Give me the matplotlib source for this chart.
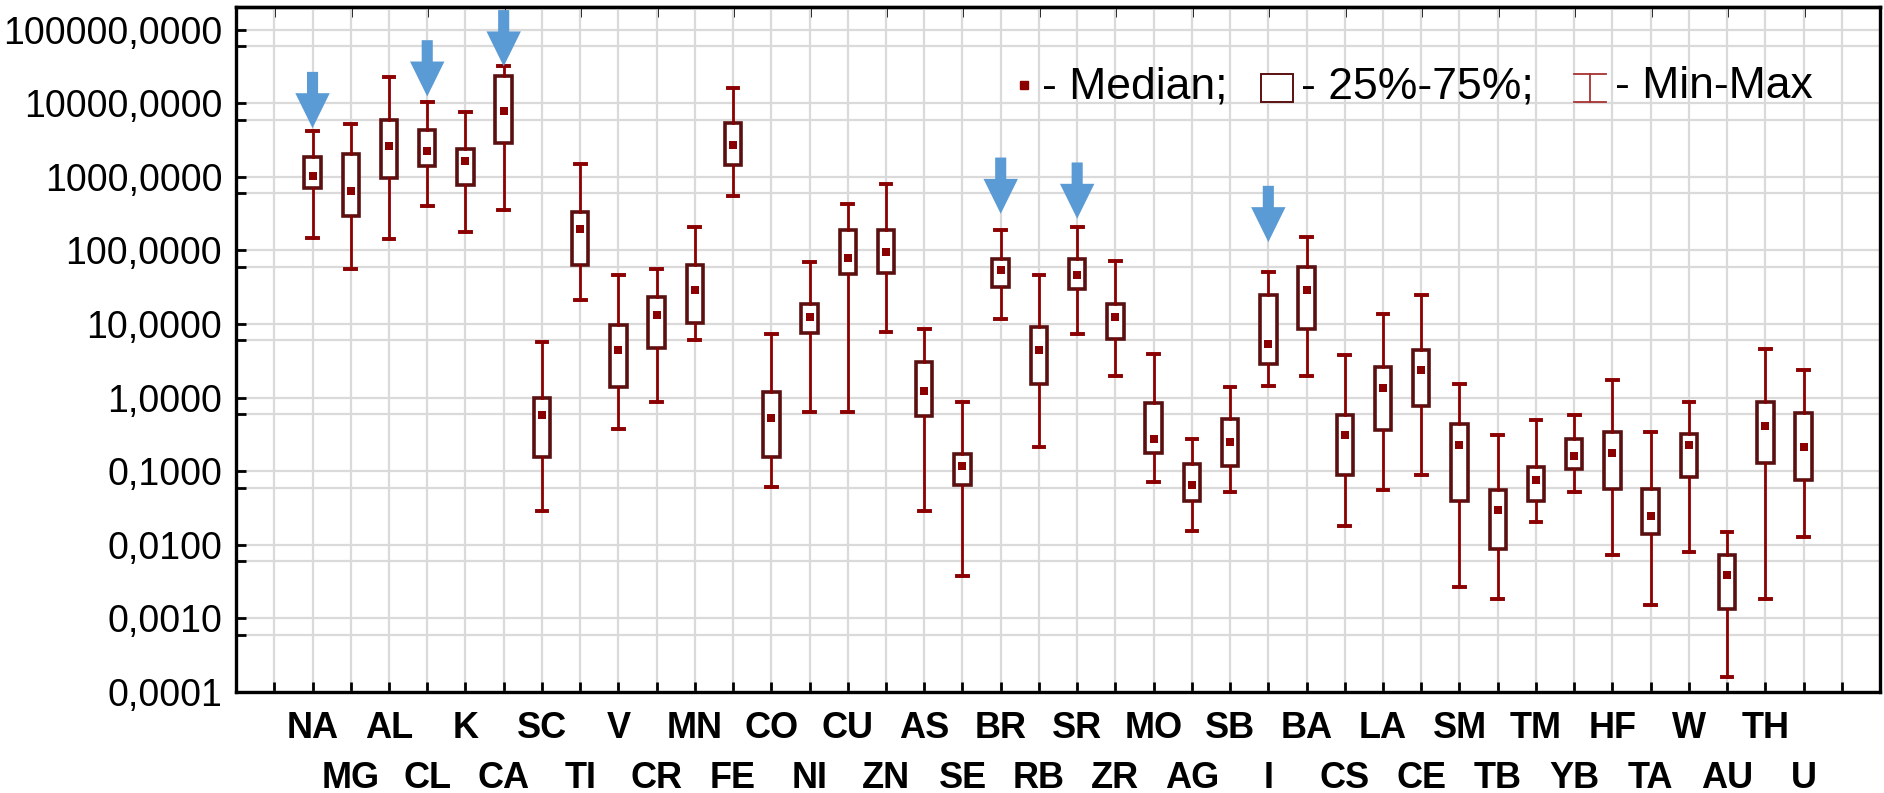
import numpy as np
import matplotlib
matplotlib.use('Agg')
import matplotlib.pyplot as plt
from matplotlib.patches import Polygon, Rectangle
from matplotlib.lines import Line2D

plt.rcParams['font.family'] = ['Liberation Sans', 'DejaVu Sans']

# element concentrations: min, 25%, median, 75%, max
elements = ['NA', 'MG', 'AL', 'CL', 'K', 'CA', 'SC', 'TI', 'V', 'CR',
            'MN', 'FE', 'CO', 'NI', 'CU', 'ZN', 'AS', 'SE', 'BR', 'RB',
            'SR', 'ZR', 'MO', 'AG', 'SB', 'I', 'BA', 'CS', 'LA', 'CE',
            'SM', 'TB', 'TM', 'YB', 'HF', 'TA', 'W', 'AU', 'TH', 'U']
v_min = [150, 56, 144, 408, 177, 353, 0.0287, 21, 0.38, 0.87,
         6.0, 558, 0.0615, 0.64, 0.64, 7.8, 0.029, 0.0038, 11.8, 0.213,
         7.4, 2.0, 0.0713, 0.0155, 0.052, 1.44, 2.0, 0.0183, 0.055, 0.088,
         0.00265, 0.00184, 0.0203, 0.052, 0.00716, 0.0015, 0.0079, 0.000158, 0.00184, 0.0127]
v_q1 = [700, 290, 970, 1410, 787, 2870, 0.156, 63, 1.40, 4.77,
        10.5, 1440, 0.156, 7.5, 47.2, 49.8, 0.56, 0.066, 31.5, 1.55,
        29.6, 6.2, 0.179, 0.039, 0.119, 2.83, 8.5, 0.0896, 0.36, 0.77,
        0.039, 0.00864, 0.039, 0.106, 0.0578, 0.0141, 0.083, 0.00135, 0.129, 0.075]
v_med = [1045, 650, 2660, 2230, 1650, 7950, 0.58, 197, 4.4, 13.4,
         28.6, 2690, 0.53, 12.4, 78.7, 94.9, 1.22, 0.119, 54, 4.5,
         46, 12.4, 0.277, 0.064, 0.252, 5.4, 28.6, 0.307, 1.34, 2.38,
         0.23, 0.0299, 0.0766, 0.161, 0.175, 0.025, 0.23, 0.00387, 0.41, 0.213]
v_q3 = [1870, 2050, 5900, 4350, 2430, 23800, 0.98, 335, 9.6, 23.3,
        62.6, 5400, 1.19, 18.9, 189, 189, 3.06, 0.173, 77, 9.1,
        77, 18.5, 0.84, 0.126, 0.52, 24.8, 59.4, 0.58, 2.6, 4.4,
        0.443, 0.0548, 0.114, 0.277, 0.341, 0.0578, 0.324, 0.00716, 0.88, 0.61]
v_max = [4260, 5250, 22800, 10300, 7550, 31800, 5.75, 1520, 46, 56,
         206, 16300, 7.4, 69.5, 430, 813, 8.6, 0.87, 189, 46,
         206, 73, 3.96, 0.277, 1.40, 50.8, 152, 3.76, 13.9, 24.8,
         1.55, 0.307, 0.49, 0.575, 1.72, 0.341, 0.87, 0.0149, 4.6, 2.35]

# highlighted elements (blue arrows) and where the arrow tips sit
arrow_elems = ['NA', 'CL', 'CA', 'BR', 'SR', 'I']
arrow_tips = [4600, 12400, 31800, 315, 270, 130]

y_major = [1e-4, 1e-3, 1e-2, 1e-1, 1, 10, 100, 1000, 10000, 100000]

box_col = '#5a1010'
whisk_col = '#8b0000'
arrow_col = '#5b9bd5'
grid_col = '#dadada'

fig = plt.figure(figsize=(18.84, 7.93), dpi=100)
ax = fig.add_axes([0.1253, 0.1274, 0.8726, 0.8638])
ax.set_yscale('log')

pos = np.arange(len(elements))
stats = [dict(med=m, q1=a, q3=b, whislo=lo, whishi=hi)
         for lo, a, m, b, hi in zip(v_min, v_q1, v_med, v_q3, v_max)]
ax.bxp(stats, positions=pos, widths=0.43, capwidths=0.28, patch_artist=True,
       showfliers=False, manage_ticks=False,
       boxprops=dict(facecolor='white', edgecolor=box_col, linewidth=2.6),
       whiskerprops=dict(color=whisk_col, linewidth=2.0),
       capprops=dict(color=whisk_col, linewidth=2.8),
       medianprops=dict(linewidth=0), zorder=3)
ax.scatter(pos, v_med, marker='s', s=26, color=whisk_col, zorder=4, linewidths=0)

# arrows drawn in log space
for name, tip in zip(arrow_elems, arrow_tips):
    x = elements.index(name)
    t = np.log10(tip)
    hl, sl, hw, sw = 0.475, 0.29, 0.45, 0.145
    verts = [(x, t), (x - hw, t + hl), (x - sw, t + hl), (x - sw, t + hl + sl),
             (x + sw, t + hl + sl), (x + sw, t + hl), (x + hw, t + hl)]
    verts = [(vx, 10 ** vy) for vx, vy in verts]
    ax.add_patch(Polygon(verts, closed=True, facecolor=arrow_col,
                         edgecolor='none', zorder=5))

ax.set_xlim(-2.0, 41.0)
ax.set_ylim(1e-4, 2.04e5)

# first row of labels on the main axis, second row on a helper axis
ax.set_xticks(pos)
ax.set_xticks([-1, 40], minor=True)
ax.set_xticklabels([e if i % 2 == 0 else '' for i, e in enumerate(elements)],
                   fontsize=26, fontweight='bold')

row2 = ax.secondary_xaxis('bottom')
row2.set_xticks(pos[1::2])
row2.set_xticklabels(elements[1::2], fontsize=26, fontweight='bold')
row2.tick_params(length=0, pad=50)
row2.spines['bottom'].set_visible(False)

ax.set_yticks(y_major)
ax.set_yticklabels([f'{v:.4f}'.replace('.', ',') for v in y_major], fontsize=27)
ax.set_yticks([0.6 * v for v in y_major[1:]], minor=True)
ax.yaxis.set_minor_formatter(matplotlib.ticker.NullFormatter())

ax.tick_params(axis='both', which='both', direction='in', length=7, width=2,
               color='black')
ax.tick_params(axis='x', pad=14)
ax.tick_params(axis='y', pad=10)

ax.grid(True, which='both', color=grid_col, linewidth=1.6, zorder=0)
ax.set_axisbelow(True)
for sp in ax.spines.values():
    sp.set_linewidth(2.4)
    sp.set_color('black')

top = ax.secondary_xaxis('top')
top.set_xticks(np.arange(-1, 41, 2))
top.set_xticklabels([])
top.tick_params(direction='in', length=7, width=2)
top.spines['top'].set_linewidth(2.4)

# legend
tr = ax.transAxes
ax.add_line(Line2D([0.479], [0.886], marker='s', markersize=6, color=whisk_col,
                   linestyle='none', transform=tr, clip_on=False))
ax.text(0.490, 0.867, '- Median;', fontsize=32, transform=tr, va='baseline')
ax.add_patch(Rectangle((0.6235, 0.861), 0.0195, 0.041, facecolor='white',
                       edgecolor=box_col, linewidth=1.4, transform=tr, zorder=6))
ax.text(0.648, 0.867, '- 25%-75%;', fontsize=32, transform=tr, va='baseline')
bx = 0.8236
ax.add_line(Line2D([bx, bx], [0.861, 0.902], color='#a83232', linewidth=1.3, transform=tr))
ax.add_line(Line2D([bx - 0.0095, bx + 0.0095], [0.861, 0.861], color='#a83232',
                   linewidth=1.3, transform=tr))
ax.add_line(Line2D([bx - 0.0095, bx + 0.0095], [0.902, 0.902], color='#a83232',
                   linewidth=1.3, transform=tr))
ax.text(0.839, 0.867, '- Min-Max', fontsize=32, transform=tr, va='baseline')

fig.savefig('out.png', dpi=100)
